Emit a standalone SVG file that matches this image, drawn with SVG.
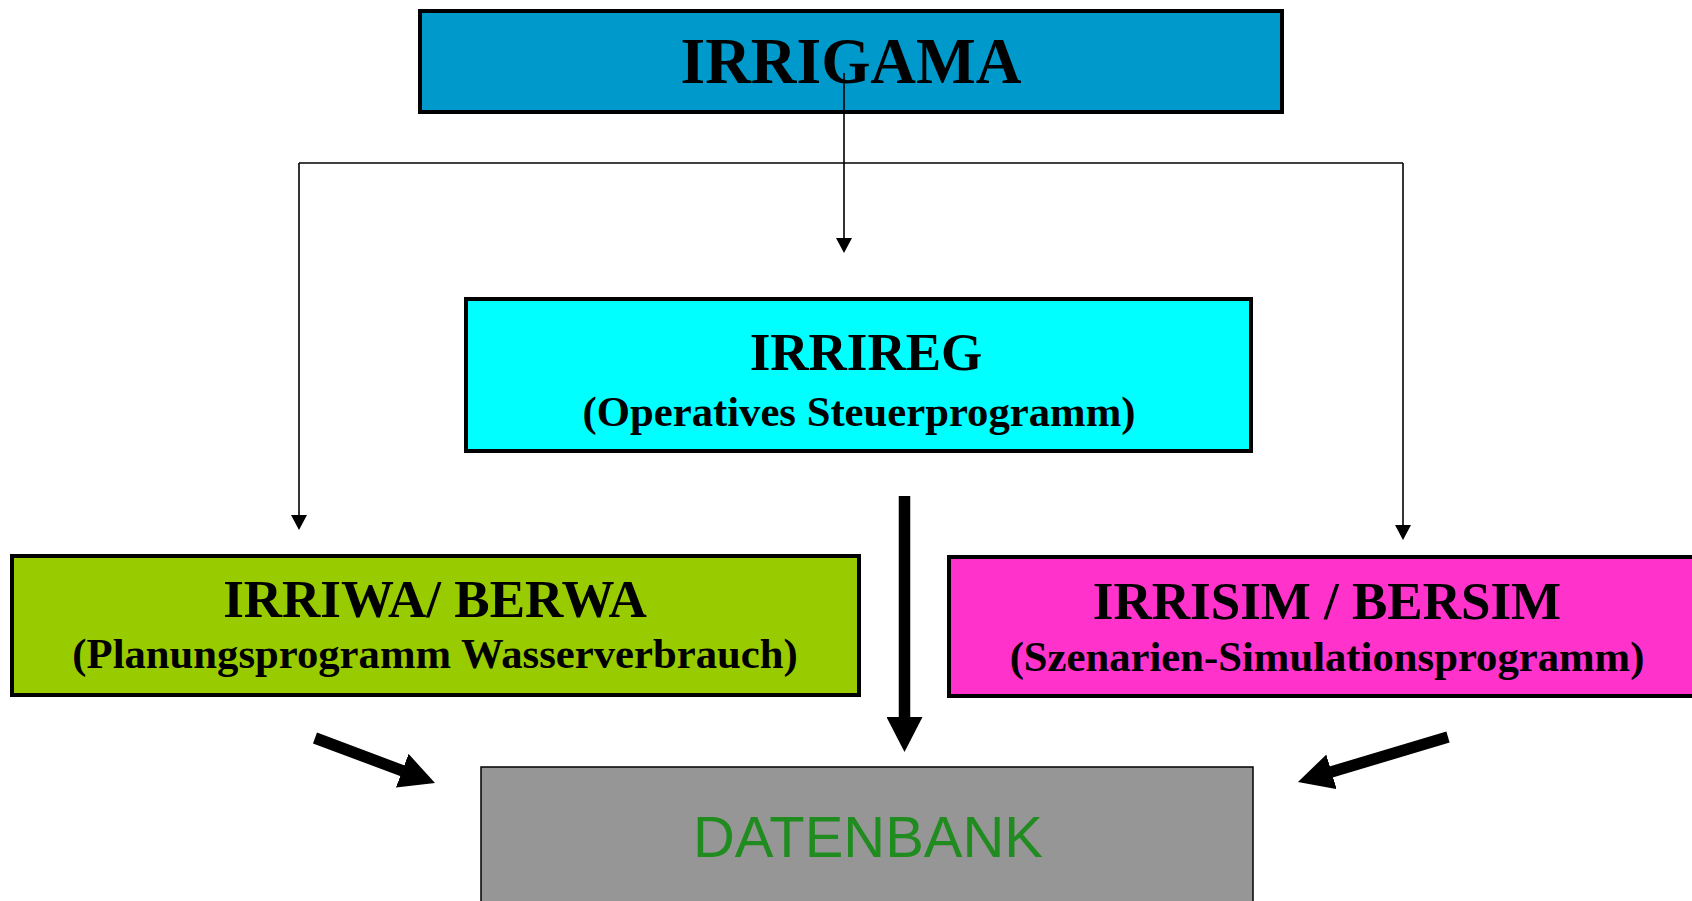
<svg xmlns="http://www.w3.org/2000/svg" width="1692" height="901" viewBox="0 0 1692 901">
<style>
.box{stroke:#000;stroke-width:4}
.t{font-family:"Liberation Serif","Times New Roman",serif;font-weight:bold;fill:#000;text-anchor:middle}
.sub{font-size:42.7px}
.thin{stroke:#000;stroke-width:1.6;fill:none}
.thick{stroke:#000;stroke-width:11.5;fill:none}
</style>
<defs>
<marker id="ah" markerUnits="userSpaceOnUse" viewBox="0 0 15 16" markerWidth="15" markerHeight="16" refX="0.5" refY="8" orient="auto"><path d="M0,0 L15,8 L0,16 Z" fill="#000"/></marker>
<marker id="ahb" markerUnits="userSpaceOnUse" viewBox="0 0 35 36" markerWidth="35" markerHeight="36" refX="0.5" refY="18" orient="auto"><path d="M0,0 L35,18 L0,36 Z" fill="#000"/></marker>
</defs>
<rect width="1692" height="901" fill="#fff"/>
<g id="irrigama">
<rect class="box" x="420" y="11" width="862" height="101" fill="#0099CC"/>
<text class="t" x="851" y="83" font-size="66" textLength="341" lengthAdjust="spacingAndGlyphs">IRRIGAMA</text>
</g>
<g id="irrireg">
<rect class="box" x="466" y="299" width="785" height="152" fill="#00FFFF"/>
<text class="t" x="866" y="370" font-size="53">IRRIREG</text>
<text class="t sub" x="859" y="426">(Operatives Steuerprogramm)</text>
</g>
<g id="irriwa">
<rect class="box" x="12" y="556" width="847" height="139" fill="#99CC00"/>
<text class="t" x="435" y="617" font-size="53">IRRIWA/ BERWA</text>
<text class="t sub" x="435" y="668">(Planungsprogramm Wasserverbrauch)</text>
</g>
<g id="irrisim">
<rect class="box" x="949" y="557" width="800" height="139" fill="#FF33CC"/>
<text class="t" x="1327" y="619" font-size="53">IRRISIM / BERSIM</text>
<text class="t sub" x="1327" y="671">(Szenarien-Simulationsprogramm)</text>
</g>
<g id="datenbank">
<rect x="481" y="767" width="772" height="150" fill="#969696" stroke="#000" stroke-width="1.5"/>
<text x="868" y="857" font-family="'Liberation Sans',Arial,sans-serif" font-size="58" fill="#208C20" text-anchor="middle" textLength="350" lengthAdjust="spacingAndGlyphs">DATENBANK</text>
</g>
<g id="connectors">
<line class="thin" x1="844" y1="73" x2="844" y2="238.5" marker-end="url(#ah)"/>
<polyline class="thin" points="299,163 1403,163"/>
<line class="thin" x1="299" y1="163" x2="299" y2="515.5" marker-end="url(#ah)"/>
<line class="thin" x1="1403" y1="163" x2="1403" y2="525.5" marker-end="url(#ah)"/>
<line class="thick" x1="904.5" y1="496" x2="904.5" y2="717.5" marker-end="url(#ahb)"/>
<line class="thick" x1="315" y1="738" x2="402.7" y2="770.9" marker-end="url(#ahb)"/>
<line class="thick" x1="1448" y1="737" x2="1331" y2="772" marker-end="url(#ahb)"/>
</g>
</svg>
